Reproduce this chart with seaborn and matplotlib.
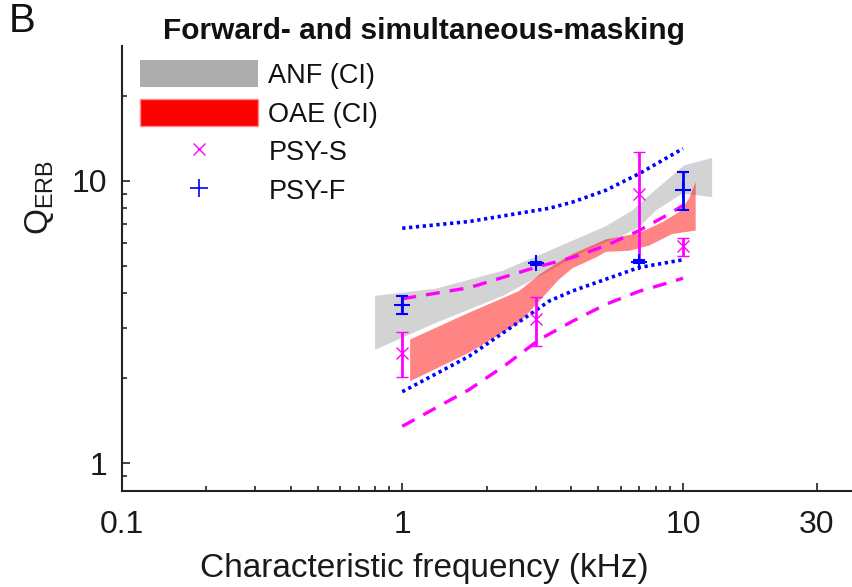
import numpy as np
import pandas as pd
import matplotlib
matplotlib.use("Agg")
import matplotlib.pyplot as plt
import seaborn as sns
from matplotlib.patches import Patch
from matplotlib.lines import Line2D
from matplotlib.ticker import FixedLocator, FixedFormatter, NullFormatter

# ---------------- data ----------------
# ANF confidence band (grey)
anf_up_x = [0.8, 1.32, 2.28, 3.34, 5.31, 6.6, 8.0, 10.1, 12.7]
anf_up_y = [3.91, 4.15, 4.80, 5.65, 6.9, 7.85, 9.3, 11.34, 12.04]
anf_lo_x = [0.8, 1.32, 1.73, 2.28, 3.34, 4.63, 6.08, 6.98, 8.0, 9.94, 11.4, 12.7]
anf_lo_y = [2.52, 3.14, 3.50, 3.91, 4.80, 5.73, 6.39, 6.86, 7.84, 9.0, 8.87, 8.75]

# OAE confidence band (red)
oae_up_x = [1.067, 1.73, 2.61, 3.08, 3.6, 4.04, 4.9, 5.31, 6.26, 6.98, 8.44, 9.68, 10.5, 11.1]
oae_up_y = [2.74, 3.41, 4.07, 4.65, 5.15, 5.50, 5.98, 6.20, 6.39, 6.53, 7.13, 7.74, 8.63, 9.89]
oae_lo_x = [1.067, 1.73, 2.61, 3.08, 3.6, 4.04, 4.9, 5.31, 6.43, 7.57, 9.16, 11.1]
oae_lo_y = [1.95, 2.46, 3.14, 3.75, 4.45, 4.90, 5.35, 5.60, 5.65, 5.89, 6.48, 6.66]

# PSY-F prediction bounds (blue dotted)
f_up_x = [1.0, 1.73, 3.34, 4.04, 5.31, 6.98, 10.0]
f_up_y = [6.79, 7.17, 7.99, 8.40, 9.25, 10.59, 13.0]
f_lo_x = [1.0, 1.73, 3.34, 4.04, 5.31, 6.98, 10.0]
f_lo_y = [1.79, 2.39, 3.75, 4.07, 4.48, 4.93, 5.25]

# PSY-S prediction bounds (magenta dashed)
s_up_x = [1.0, 1.73, 3.0, 4.04, 5.31, 6.98, 8.92, 10.0]
s_up_y = [3.82, 4.18, 4.94, 5.35, 5.89, 6.66, 7.63, 8.17]
s_lo_x = [1.0, 1.73, 2.34, 3.08, 4.04, 5.31, 6.98, 9.29, 10.0]
s_lo_y = [1.35, 1.82, 2.23, 2.74, 3.18, 3.65, 4.06, 4.41, 4.52]

# PSY-S points with error bars
psys_x = [1, 3, 7, 10]
psys_y = [2.46, 3.23, 8.99, 5.86]
psys_lo = [2.02, 2.59, 5.20, 5.40]
psys_hi = [2.91, 3.89, 12.65, 6.25]

# PSY-F points with error bars
psyf_x = [1, 3, 7, 10]
psyf_y = [3.62, 5.10, 5.17, 9.30]
psyf_lo = [3.36, 5.05, 5.12, 7.90]
psyf_hi = [3.91, 5.15, 5.22, 10.73]

x_ticks = [0.1, 1, 10, 30]
x_ticklabels = ["0.1", "1", "10", "30"]
y_ticks = [1, 10]
y_ticklabels = ["1", "10"]

# ---------------- style ----------------
sns.set_style("ticks")
plt.rcParams["font.family"] = ["Liberation Sans", "DejaVu Sans"]
plt.rcParams["mathtext.fontset"] = "custom"
plt.rcParams["mathtext.rm"] = "Liberation Sans"
plt.rcParams["mathtext.it"] = "Liberation Sans"

W, H = 852, 587
fig = plt.figure(figsize=(W / 100, H / 100), dpi=100)
ax = fig.add_axes([121.5 / W, 1 - 490.5 / H, (W - 121.5) / W, (490.5 - 46) / H])
ax.set_xscale("log")
ax.set_yscale("log")

# bands
ax.fill(np.r_[anf_up_x, anf_lo_x[::-1]], np.r_[anf_up_y, anf_lo_y[::-1]],
        color=(0.66, 0.66, 0.66), alpha=0.5, lw=0, zorder=1)
ax.fill(np.r_[oae_up_x, oae_lo_x[::-1]], np.r_[oae_up_y, oae_lo_y[::-1]],
        color=(1.0, 0.0, 0.0), alpha=0.48, lw=0, zorder=2)

# prediction bound lines
blue = (0.0, 0.0, 1.0)
mag = (1.0, 0.0, 1.0)
for xs, ys in [(f_up_x, f_up_y), (f_lo_x, f_lo_y)]:
    df = pd.DataFrame({"x": xs, "y": ys})
    sns.lineplot(data=df, x="x", y="y", ax=ax, color=blue, lw=2.6,
                 linestyle=(0, (0.9, 1.0)), sort=False, estimator=None, zorder=3)
for xs, ys in [(s_up_x, s_up_y), (s_lo_x, s_lo_y)]:
    df = pd.DataFrame({"x": xs, "y": ys})
    sns.lineplot(data=df, x="x", y="y", ax=ax, color=mag, lw=2.4,
                 linestyle=(0, (4.2, 3.0)), sort=False, estimator=None, zorder=3)

# error bars
sy = np.array(psys_y)
ax.errorbar(psys_x, psys_y, yerr=[sy - np.array(psys_lo), np.array(psys_hi) - sy],
            fmt="x", color=mag, ms=9, mew=1.0, elinewidth=2.0, capsize=4.5,
            capthick=2.0, zorder=5)
fy = np.array(psyf_y)
ax.errorbar(psyf_x, psyf_y, yerr=[fy - np.array(psyf_lo), np.array(psyf_hi) - fy],
            fmt="+", color=blue, ms=12, mew=1.5, elinewidth=2.0, capsize=4.5,
            capthick=2.0, zorder=6)

# axes
ax.set_xlim(0.1, 40)
ax.set_ylim(0.8, 30)
ax.xaxis.set_major_locator(FixedLocator(x_ticks))
ax.xaxis.set_major_formatter(FixedFormatter(x_ticklabels))
ax.xaxis.set_minor_locator(FixedLocator([0.2, 0.3, 0.4, 0.5, 0.6, 0.7, 0.8, 0.9,
                                         2, 3, 4, 5, 6, 7, 8, 9]))
ax.xaxis.set_minor_formatter(NullFormatter())
ax.yaxis.set_major_locator(FixedLocator(y_ticks))
ax.yaxis.set_major_formatter(FixedFormatter(y_ticklabels))
ax.yaxis.set_minor_locator(FixedLocator([0.9, 2, 3, 4, 5, 6, 7, 8, 9, 20]))
ax.yaxis.set_minor_formatter(NullFormatter())

ax.tick_params(which="both", direction="in", color="#222222", width=1.2,
               labelsize=23, labelcolor="#1a1a1a")
ax.tick_params(which="major", length=6)
ax.tick_params(which="minor", length=3.5)
ax.tick_params(axis="x", which="major", pad=14)
ax.tick_params(axis="y", which="major", pad=10)
for side in ["top", "right"]:
    ax.spines[side].set_visible(False)
for side in ["left", "bottom"]:
    ax.spines[side].set_linewidth(1.5)
    ax.spines[side].set_color("#222222")
ax.set_xlabel("")
ax.set_ylabel("")

fig.text(424 / W, 1 - 569 / H, "Characteristic frequency (kHz)", ha="center",
         va="center", fontsize=24, color="#1a1a1a")
fig.text(40 / W, 1 - 197 / H, r"$\mathrm{Q_{ERB}}$", ha="center", va="center",
         rotation=90, fontsize=24, color="#1a1a1a")
fig.text(424 / W, 1 - 31 / H, "Forward- and simultaneous-masking", ha="center",
         va="center", fontsize=21.5, fontweight="bold", color="#111111")
fig.text(9 / W, 1 - 21 / H, "B", ha="left", va="center", fontsize=29,
         color="#111111")

# legend
handles = [
    Patch(facecolor=(0.68, 0.68, 0.68), edgecolor="none"),
    Patch(facecolor=(1.0, 0.0, 0.0), edgecolor=(1.0, 0.55, 0.55), lw=1.0),
    Line2D([], [], ls="none", marker="x", color=mag, ms=9, mew=1.0),
    Line2D([], [], ls="none", marker="+", color=blue, ms=13, mew=1.2),
]
labels = ["ANF (CI)", "OAE (CI)", "PSY-S", "PSY-F"]
leg = fig.legend(handles, labels, loc="upper left",
                 bbox_to_anchor=(140 / W, 1 - 60 / H), frameon=False,
                 fontsize=19.5, handlelength=4.37, handleheight=1.15,
                 handletextpad=0.37, labelspacing=0.38, borderpad=0,
                 borderaxespad=0)
for t in leg.get_texts():
    t.set_color("#111111")

fig.savefig("out.png", dpi=100)
